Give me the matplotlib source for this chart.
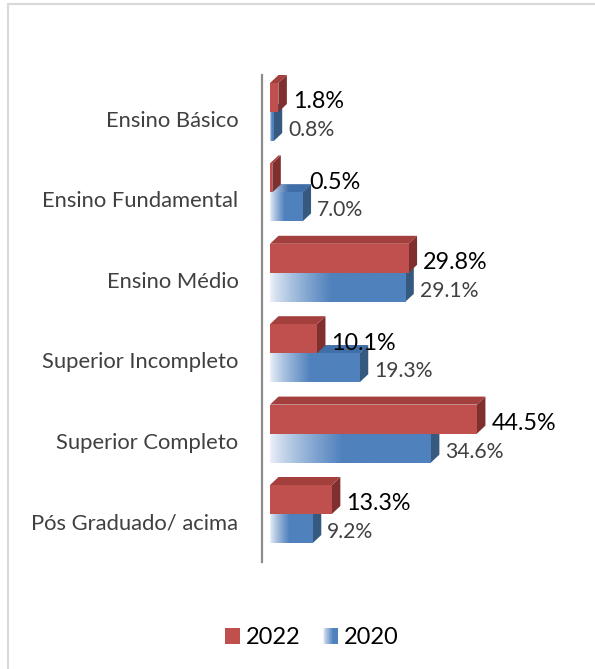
import numpy as np
import matplotlib
matplotlib.use('Agg')
import matplotlib.pyplot as plt
from matplotlib.patches import Polygon, Rectangle
from matplotlib.legend_handler import HandlerBase

# data
categories = ['Ensino Básico', 'Ensino Fundamental', 'Ensino Médio',
              'Superior Incompleto', 'Superior Completo', 'Pós Graduado/ acima']
vals_2022 = [1.8, 0.5, 29.8, 10.1, 44.5, 13.3]
vals_2020 = [0.8, 7.0, 29.1, 19.3, 34.6, 9.2]
series_labels = ['2022', '2020']

# colours
red_front, red_top, red_side = '#c0504d', '#a3403d', '#7f302e'
blue_front, blue_top, blue_side = '#4f81bd', '#3f6ea8', '#36597f'
light = np.array([0.93, 0.95, 0.98])

W, H, DPI = 595, 669, 100
plt.rcParams['font.family'] = ['Lato', 'DejaVu Sans']

fig = plt.figure(figsize=(W / DPI, H / DPI), dpi=DPI)

# plot area in pixels (axis line sits at x=262)
ax_l, ax_r, ax_t, ax_b = 262, 595, 75, 562
ax = fig.add_axes([ax_l / W, 1 - ax_b / H, (ax_r - ax_l) / W, (ax_b - ax_t) / H])

px_pct = 4.65     # pixels per percent
px_cat = 80.4     # pixels between categories
zero_px = 270
first_px = 119

def sx(px):
    return px / px_pct

def sy(px):
    return px / px_cat

dx, dy = sx(8.5), sy(8)


def grad_image(col, n=200, stop=0.45):
    t = np.linspace(0, 1, n)
    f = np.clip(t / stop, 0, 1) ** 0.8
    c = np.array(matplotlib.colors.to_rgb(col))
    rgb = (1 - f)[:, None] * light + f[:, None] * c
    return rgb[None, :, :]


def bar3d(yc, top_off, bot_off, v, front, top, side, z, grad=False):
    y0 = yc + sy(top_off)
    y1 = yc + sy(bot_off)
    side_p = Polygon([(v, y0), (v + dx, y0 - dy), (v + dx, y1 - dy), (v, y1)],
                     closed=True, fc=side, ec='none', zorder=z)
    top_p = Polygon([(0, y0), (v, y0), (v + dx, y0 - dy), (dx, y0 - dy)],
                    closed=True, fc=top, ec='none', zorder=z)
    front_p = Rectangle((0, y0), v, y1 - y0, fc=front, ec='none', zorder=z)
    for p in (side_p, top_p, front_p):
        ax.add_patch(p)
    if grad:
        im = ax.imshow(grad_image(front), extent=[0, v, y1, y0], aspect='auto',
                       zorder=z + 0.1, interpolation='bilinear')
        im.set_clip_path(front_p)
        im2 = ax.imshow(grad_image(top), extent=[0, v + dx, y0, y0 - dy], aspect='auto',
                        zorder=z + 0.1, interpolation='bilinear')
        im2.set_clip_path(top_p)


# the 0.5% label was moved off the bar by hand in the original
label_x_2022 = {1: 5.4}

for i, (vr, vb) in enumerate(zip(vals_2022, vals_2020)):
    bar3d(i, -7, 22, vb, blue_front, blue_top, blue_side, 2, grad=True)
    bar3d(i, -36, -7, vr, red_front, red_top, red_side, 3)
    xr = label_x_2022.get(i, vr)
    ax.text(xr + dx + sx(6), i + sy(-17), f'{vr:.1f}%', fontsize=16.8,
            color='black', va='center', ha='left', zorder=5)
    ax.text(vb + dx + sx(6), i + sy(11), f'{vb:.1f}%', fontsize=15.2,
            color='#404040', va='center', ha='left', zorder=5)

ax.set_xlim(sx(ax_l - zero_px), sx(ax_r - zero_px))
ax.set_ylim(sy(ax_b - first_px), sy(ax_t - first_px))
ax.set_yticks(range(len(categories)))
ax.set_yticklabels(categories, fontsize=15.8, color='#404040')
ax.tick_params(axis='y', length=0, pad=17)
ax.set_xticks([])
for s in ['top', 'right', 'bottom']:
    ax.spines[s].set_visible(False)
ax.spines['left'].set_color('#8c8c8c')
ax.spines['left'].set_linewidth(1.6)
ax.patch.set_alpha(0)


class GradHandler(HandlerBase):
    def create_artists(self, legend, orig_handle, xd, yd, width, height, fontsize, trans):
        n = 24
        cols = grad_image(blue_front, n=n, stop=0.7)[0]
        arts = []
        for k in range(n):
            r = Rectangle((-xd + width * k / n, -yd), width / n * 1.1, height,
                          fc=cols[k], ec='none', transform=trans)
            arts.append(r)
        return arts


h_red = Rectangle((0, 0), 1, 1, fc=red_front, ec='none')
h_blue = Rectangle((0, 0), 1, 1, fc=blue_front, ec='none')
fs = 17
fs_px = fs * DPI / 72
fig.legend([h_red, h_blue], series_labels, loc='center',
           bbox_to_anchor=(312 / W, 1 - 638 / H), ncol=2, frameon=False,
           fontsize=fs, handlelength=15 / fs_px, handleheight=15 / fs_px,
           handletextpad=6 / fs_px, columnspacing=22 / fs_px,
           handler_map={h_blue: GradHandler()})

# chart frame (only top and left edges fall inside the picture)
fig.add_artist(Rectangle((7.5 / W, -0.05), 1.2, 1.05 - 3.5 / H, transform=fig.transFigure,
                         fill=False, ec='#d9d9d9', lw=1.5))

fig.savefig('out.png', dpi=DPI)
